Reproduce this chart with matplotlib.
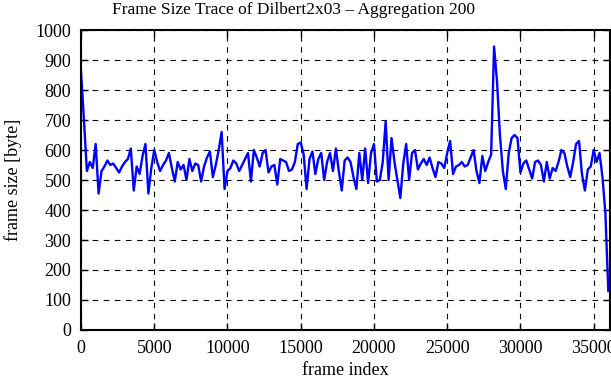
import numpy as np
import matplotlib
matplotlib.use("Agg")
from matplotlib import pyplot as plt

# frame size, one value every 200 frames (aggregation 200)
seg_0 = [860, 700, 530, 560, 540, 620, 455, 530, 545, 565,
         550, 555, 540, 525, 545, 560, 570, 605, 465, 545,
         520, 580, 620, 455, 540, 600, 560, 530, 550, 565]
seg_1 = [590, 540, 495, 560, 535, 550, 500, 570, 530, 555,
         550, 495, 545, 575, 595, 510, 550, 600, 660, 470,
         530, 540, 565, 555, 530, 550, 570, 590, 495, 600]
seg_2 = [575, 545, 590, 600, 525, 545, 550, 485, 570, 565,
         560, 530, 535, 560, 620, 625, 585, 470, 570, 595,
         520, 570, 590, 500, 560, 590, 530, 605, 530, 465]
seg_3 = [565, 575, 560, 510, 470, 590, 500, 605, 490, 590,
         620, 495, 500, 560, 695, 500, 640, 560, 500, 440,
         555, 620, 500, 590, 600, 535, 555, 570, 550, 575]
seg_4 = [540, 510, 560, 555, 540, 590, 630, 520, 545, 550,
         560, 545, 550, 575, 600, 530, 490, 580, 530, 560,
         585, 945, 830, 650, 530, 470, 590, 640, 650, 640]
seg_5 = [525, 555, 565, 535, 505, 560, 565, 550, 495, 560,
         505, 540, 530, 560, 600, 590, 545, 510, 560, 620,
         630, 520, 465, 535, 545, 600, 560, 590, 510, 390,
         130]

frame_size = np.array(seg_0 + seg_1 + seg_2 + seg_3 + seg_4 + seg_5)
frame_index = np.arange(len(frame_size)) * 200

plt.rcParams['font.family'] = ['Liberation Serif', 'DejaVu Serif']
plt.rcParams['font.size'] = 13

fig = plt.figure(figsize=(6.11, 3.80), dpi=100)
ax = fig.add_axes([0.1326, 0.1316, 0.8654, 0.7894])

ax.plot(frame_index, frame_size, color="#0000ff", lw=1.7)

ax.set_xlim(0, 36100)
ax.set_ylim(0, 1000)
ax.set_xticks(np.arange(0, 36000, 5000))
ax.set_yticks(np.arange(0, 1001, 100))
ax.grid(True, color="black", linestyle=(0, (5, 5)), lw=0.8)
ax.tick_params(direction="in", top=True, right=True, length=5, width=1, pad=7)
for s in ax.spines.values():
    s.set_linewidth(1.5)

fig.text(0.481, 0.975, "Frame Size Trace of Dilbert2x03 \u2013 Aggregation 200",
         ha="center", va="center", fontsize=12.5)
ax.set_xlabel("frame index", labelpad=4)
ax.yaxis.set_label_coords(-0.112, 0.5)
ax.set_ylabel("frame size [byte]")

fig.savefig("out.png", dpi=100)
